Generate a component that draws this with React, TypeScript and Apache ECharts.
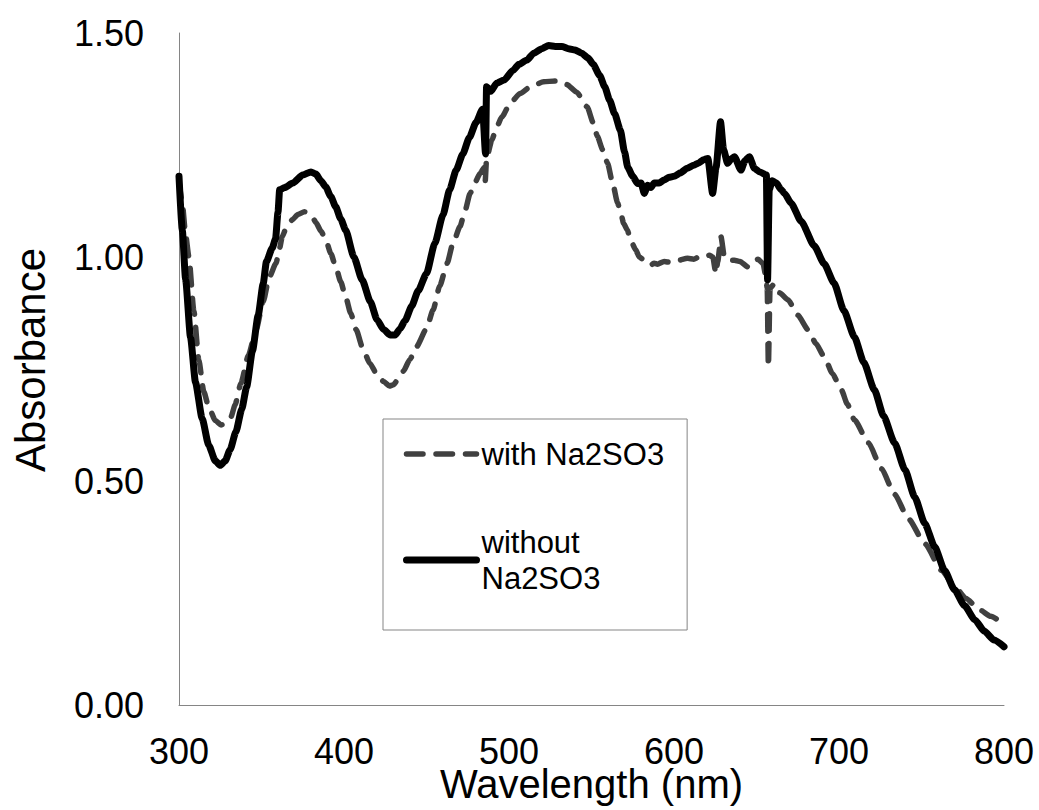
import React, { useEffect, useRef } from "react";
import * as echarts from "echarts";

// Wavelength (nm) / absorbance
const withWl = [
  300, 302, 304, 306, 309, 312, 315, 318, 322, 325.5, 329, 331.5, 334, 337.5, 342, 346.7, 351, 354.7, 358.8,
  361, 362.5, 365, 368.7, 372, 376, 380, 383, 386, 389, 392, 395, 398, 401, 404, 407.5, 411, 415.6, 420, 424,
  427.5, 430, 433, 436, 440, 444, 450, 454, 458, 462.5, 466, 470.3, 473.5, 476.4, 479.5, 482.5, 485, 485.6,
  486.4, 489.6, 492.5, 495.7, 501, 506.8, 513, 521, 528, 535, 541, 547.4, 551, 553.5, 556.7, 559.7, 562.8,
  565.8, 567.6, 569.5, 571.7, 574, 576.8, 579, 581.8, 584, 585.9, 588, 590, 594, 598, 602, 608.2, 612, 615,
  618, 621.4, 623.5, 625.4, 626.5, 628.5, 630.5, 632.5, 636.6, 640, 644.7, 647.7, 651, 654, 655.5, 656.5,
  657.2, 658.2, 660.7, 664, 669.2, 675, 681.4, 686, 691.1, 696, 701.5, 705, 709.4, 717.9, 725.8, 733.7, 742.2,
  752, 762.3, 770, 777, 785, 792, 800,
];
const withAbs = [
  1.17, 1.12, 1.05, 1.0, 0.88, 0.77, 0.7, 0.665, 0.635, 0.625, 0.63, 0.643, 0.67, 0.718, 0.78, 0.837, 0.9,
  0.955, 0.986, 1.02, 1.045, 1.065, 1.083, 1.095, 1.101, 1.095, 1.077, 1.058, 1.038, 1.008, 0.978, 0.945,
  0.911, 0.875, 0.837, 0.8, 0.763, 0.738, 0.722, 0.712, 0.715, 0.728, 0.745, 0.772, 0.8, 0.84, 0.882, 0.935,
  0.986, 1.03, 1.068, 1.105, 1.142, 1.167, 1.187, 1.2, 1.17, 1.22, 1.261, 1.29, 1.313, 1.345, 1.365, 1.38,
  1.391, 1.393, 1.385, 1.368, 1.335, 1.3, 1.27, 1.24, 1.21, 1.165, 1.121, 1.1, 1.075, 1.06, 1.035, 1.016, 1.0,
  0.993, 0.985, 0.982, 0.986, 0.984, 0.99, 0.988, 0.992, 0.997, 0.995, 1.0, 0.998, 1.004, 1.0, 0.963, 0.99,
  1.045, 1.0, 0.993, 0.993, 0.99, 0.978, 0.99, 0.995, 0.985, 0.96, 0.93, 0.755, 0.93, 0.94, 0.92, 0.904,
  0.87, 0.837, 0.807, 0.777, 0.74, 0.703, 0.672, 0.636, 0.585, 0.527, 0.47, 0.415, 0.36, 0.3, 0.265, 0.238,
  0.213, 0.198, 0.18,
];

const withoutWl = [
  300, 302, 304, 307, 310, 314, 318, 322, 325, 328, 331, 334.5, 338, 341, 344.5, 348, 351, 353, 356.5, 358.5,
  360, 361, 364, 369, 375, 380, 383, 386, 389, 392, 395, 398, 401, 406, 411, 416, 420, 424, 428, 431, 434,
  437, 441, 445, 450, 455, 460, 464, 468, 472, 476, 480, 484, 485.8, 486.4, 489, 492.5, 497, 502.5, 506, 511,
  515, 520, 524, 528, 532, 536, 540, 544, 548, 551, 555, 558, 561, 564, 567.5, 570, 572, 575, 578, 580, 582,
  584, 586, 588, 591, 594, 597, 600, 604, 608, 612, 615, 618, 620.5, 623.4, 625.5, 628.2, 630, 632.5, 635,
  636.6, 640.6, 643, 645.7, 648.7, 652, 656, 656.7, 657.7, 659.5, 662, 665, 667, 671, 677, 685, 691, 697,
  703, 709.4, 715, 721.5, 727, 733.7, 740, 745.9, 752, 758, 764, 770, 776, 782.4, 788, 794, 800,
];
const withoutAbs = [
  1.18, 1.06, 0.95, 0.82, 0.72, 0.64, 0.58, 0.545, 0.535, 0.545, 0.57, 0.61, 0.66, 0.71, 0.79, 0.87, 0.94,
  0.99, 1.02, 1.04, 1.1, 1.15, 1.155, 1.165, 1.183, 1.19, 1.185, 1.17, 1.156, 1.135, 1.112, 1.085, 1.06, 1.0,
  0.949, 0.9, 0.86, 0.838, 0.826, 0.826, 0.84, 0.858, 0.89, 0.925, 0.963, 1.03, 1.094, 1.15, 1.194, 1.23,
  1.267, 1.3, 1.33, 1.23, 1.38, 1.37, 1.388, 1.395, 1.417, 1.43, 1.44, 1.455, 1.465, 1.472, 1.47, 1.47, 1.465,
  1.462, 1.455, 1.444, 1.43, 1.405, 1.38, 1.35, 1.32, 1.283, 1.235, 1.2, 1.18, 1.164, 1.165, 1.142, 1.16,
  1.155, 1.165, 1.165, 1.172, 1.178, 1.18, 1.188, 1.198, 1.205, 1.21, 1.217, 1.22, 1.142, 1.2, 1.302, 1.24,
  1.209, 1.22, 1.224, 1.194, 1.215, 1.224, 1.198, 1.19, 1.183, 0.949, 1.15, 1.17, 1.165, 1.15, 1.142, 1.12,
  1.08, 1.025, 0.985, 0.942, 0.88, 0.821, 0.765, 0.703, 0.645, 0.585, 0.525, 0.464, 0.405, 0.353, 0.3, 0.257,
  0.222, 0.19, 0.165, 0.145, 0.13,
];

const seriesNames = ["with Na2SO3", "without Na2SO3"];
const xTicks = [300, 400, 500, 600, 700, 800];
const yTicks = [0, 0.5, 1.0, 1.5];

const pairs = (xs: number[], ys: number[]) => xs.map((x, i) => [x, ys[i]]);

export default function App() {
  const ref = useRef<HTMLDivElement>(null);
  useEffect(() => {
    document.body.style.margin = "0";
    const chart = echarts.init(ref.current!, null, { renderer: "svg" });
    const font = "'Liberation Sans', Arial, sans-serif";
    const axisColor = "#858585";
    const dashed = { width: 5.5, type: [16.5, 13], cap: "round", join: "round", color: "#404040" };
    const solid = { width: 7, type: "solid", cap: "round", join: "round", color: "#000000" };
    chart.setOption({
      animation: false,
      backgroundColor: "#ffffff",
      textStyle: { fontFamily: font },
      grid: { left: 179, right: 35, top: 33, bottom: 105, containLabel: false, outerBoundsMode: "none" },
      xAxis: {
        type: "value",
        min: xTicks[0],
        max: xTicks[xTicks.length - 1],
        interval: xTicks[1] - xTicks[0],
        name: "Wavelength (nm)",
        nameLocation: "middle",
        nameGap: 59,
        nameMoveOverlap: false,
        nameTextStyle: { fontSize: 40, color: "#000", fontFamily: font },
        axisLine: { show: true, lineStyle: { color: axisColor, width: 1 } },
        axisTick: { show: false },
        splitLine: { show: false },
        axisLabel: { fontSize: 36, color: "#000", fontFamily: font, margin: 28 },
      },
      yAxis: {
        type: "value",
        min: yTicks[0],
        max: yTicks[yTicks.length - 1],
        interval: yTicks[1] - yTicks[0],
        name: "Absorbance",
        nameLocation: "middle",
        nameGap: 128,
        nameMoveOverlap: false,
        nameTextStyle: { fontSize: 42, color: "#000", fontFamily: font, padding: [0, 0, 0, 18] },
        axisLine: { show: true, lineStyle: { color: axisColor, width: 1 } },
        axisTick: { show: false },
        splitLine: { show: false },
        axisLabel: {
          fontSize: 36,
          color: "#000",
          fontFamily: font,
          margin: 35,
          formatter: (v: number) => v.toFixed(2),
        },
      },
      legend: {
        orient: "vertical",
        left: 383,
        top: 419,
        padding: [17, 23, 16, 20],
        itemGap: 34,
        itemWidth: 70,
        itemHeight: 14,
        backgroundColor: "#ffffff",
        borderColor: axisColor,
        borderWidth: 1,
        borderRadius: 0,
        textStyle: { fontSize: 31, color: "#000", fontFamily: font, lineHeight: 36 },
        data: [
          {
            name: seriesNames[0],
            itemStyle: { opacity: 0 },
            lineStyle: dashed,
          },
          {
            name: seriesNames[1],
            itemStyle: { opacity: 0 },
            lineStyle: solid,
            textStyle: { padding: [36, 0, 0, 0], lineHeight: 36 },
          },
        ],
        formatter: (n: string) => (n === seriesNames[1] ? "without\nNa2SO3" : n),
      },
      series: [
        {
          name: seriesNames[0],
          type: "line",
          data: pairs(withWl, withAbs),
          showSymbol: false,
          symbol: "none",
          color: "#404040",
          smooth: 0.2,
          smoothMonotone: "x",
          lineStyle: dashed,
          z: 2,
        },
        {
          name: seriesNames[1],
          type: "line",
          data: pairs(withoutWl, withoutAbs),
          showSymbol: false,
          symbol: "none",
          color: "#000",
          smooth: 0.2,
          smoothMonotone: "x",
          lineStyle: solid,
          z: 3,
        },
      ],
    });
    return () => chart.dispose();
  }, []);
  return <div ref={ref} style={{ width: 1039, height: 810 }} />;
}
